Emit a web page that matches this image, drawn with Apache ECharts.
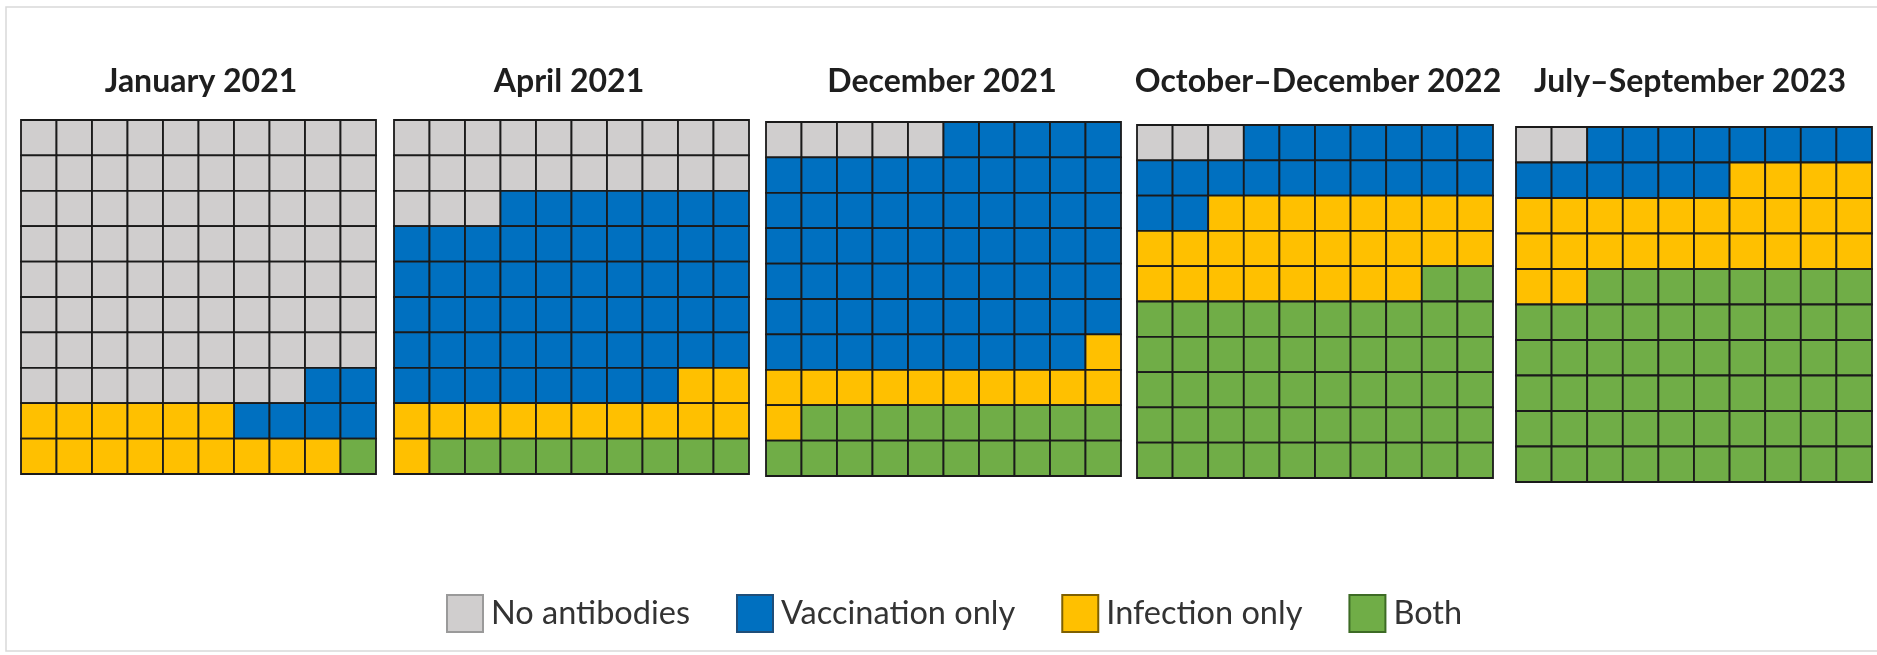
<!DOCTYPE html>
<html>
<head>
<meta charset="utf-8">
<script src="https://cdn.jsdelivr.net/npm/echarts@6/dist/echarts.min.js"></script>
<style>
  html, body { margin: 0; padding: 0; background: #fff; }
  #chart { width: 1877px; height: 655px; }
</style>
</head>
<body>
<div id="chart"></div>
<script>
// categories and their colours
const categoryCodes = ["N", "V", "I", "B"];
const categoryNames = ["No antibodies", "Vaccination only", "Infection only", "Both"];
const categoryColors = ["#d0cece", "#0070c0", "#ffc000", "#70ad47"];
const categoryBorders = ["#9a9a9a", "#1f4e79", "#7f6000", "#3d6b25"];

const panelTitles = ["January 2021", "April 2021", "December 2021", "October\u2013December 2022", "July\u2013September 2023"];

// 10x10 waffle rows, top to bottom (N = none, V = vaccination, I = infection, B = both)
const jan2021 = [
  "NNNNNNNNNN", "NNNNNNNNNN", "NNNNNNNNNN", "NNNNNNNNNN", "NNNNNNNNNN",
  "NNNNNNNNNN", "NNNNNNNNNN", "NNNNNNNNVV", "IIIIIIVVVV", "IIIIIIIIIB",
];
const apr2021 = [
  "NNNNNNNNNN", "NNNNNNNNNN", "NNNVVVVVVV", "VVVVVVVVVV", "VVVVVVVVVV",
  "VVVVVVVVVV", "VVVVVVVVVV", "VVVVVVVVII", "IIIIIIIIII", "IBBBBBBBBB",
];
const dec2021 = [
  "NNNNNVVVVV", "VVVVVVVVVV", "VVVVVVVVVV", "VVVVVVVVVV", "VVVVVVVVVV",
  "VVVVVVVVVV", "VVVVVVVVVI", "IIIIIIIIII", "IBBBBBBBBB", "BBBBBBBBBB",
];
const octDec2022 = [
  "NNNVVVVVVV", "VVVVVVVVVV", "VVIIIIIIII", "IIIIIIIIII", "IIIIIIIIBB",
  "BBBBBBBBBB", "BBBBBBBBBB", "BBBBBBBBBB", "BBBBBBBBBB", "BBBBBBBBBB",
];
const julSep2023 = [
  "NNVVVVVVVV", "VVVVVVIIII", "IIIIIIIIII", "IIIIIIIIII", "IIBBBBBBBB",
  "BBBBBBBBBB", "BBBBBBBBBB", "BBBBBBBBBB", "BBBBBBBBBB", "BBBBBBBBBB",
];
const panels = [jan2021, apr2021, dec2021, octDec2022, julSep2023];

const gridIndex = ["0", "1", "2", "3", "4", "5", "6", "7", "8", "9"];

// layout of the five panels
const gridBoxes = [
  { left: 21, top: 120, width: 355, height: 354 },
  { left: 394, top: 120, width: 355, height: 354 },
  { left: 766, top: 122, width: 355, height: 354 },
  { left: 1137, top: 125, width: 356, height: 353 },
  { left: 1516, top: 127, width: 356, height: 355 },
];
const titleCenters = [201, 569, 942, 1318, 1690];

function cellsOf(rows, code) {
  const out = [];
  rows.forEach((row, r) => {
    row.split("").forEach((ch, c) => {
      if (ch === code) out.push([c, r]);
    });
  });
  return out;
}

function renderCell(params, api) {
  const center = api.coord([api.value(0), api.value(1)]);
  const size = api.size([1, 1]);
  return {
    type: "rect",
    shape: { x: center[0] - size[0] / 2, y: center[1] - size[1] / 2, width: size[0], height: size[1] },
    style: { fill: api.visual("color"), stroke: "#1a1a1a", lineWidth: 1.8 },
  };
}

const grid = gridBoxes.map((b) => ({ ...b, containLabel: false }));
const xAxis = gridBoxes.map((b, i) => ({ type: "category", gridIndex: i, data: gridIndex, show: false }));
const yAxis = gridBoxes.map((b, i) => ({ type: "category", gridIndex: i, data: gridIndex, inverse: true, show: false }));

const series = [];
panels.forEach((rows, p) => {
  categoryCodes.forEach((code, k) => {
    series.push({
      type: "custom",
      name: categoryNames[k],
      xAxisIndex: p,
      yAxisIndex: p,
      itemStyle: { color: categoryColors[k] },
      renderItem: renderCell,
      data: cellsOf(rows, code),
    });
  });
});

const title = panelTitles.map((t, i) => ({
  text: t,
  left: titleCenters[i],
  top: 66,
  textAlign: "center",
  padding: 0,
  textStyle: { fontFamily: "Lato", fontWeight: "bold", fontSize: 32, color: "#1e1e1e" },
}));

const chart = echarts.init(document.getElementById("chart"));
chart.setOption({
  animation: false,
  title,
  grid,
  xAxis,
  yAxis,
  legend: {
    left: 446,
    top: 594,
    padding: 0,
    itemWidth: 36,
    itemHeight: 37,
    itemGap: 46,
    icon: "rect",
    selectedMode: false,
    textStyle: { fontFamily: "Lato", fontSize: 32.5, color: "#333", padding: [0, 0, 0, 3] },
    data: categoryNames.map((n, k) => ({
      name: n,
      itemStyle: { color: categoryColors[k], borderColor: categoryBorders[k], borderWidth: 2 },
    })),
  },
  graphic: [
    {
      type: "rect",
      shape: { x: 6, y: 7, width: 1880, height: 644 },
      style: { fill: "none", stroke: "#d9d9d9", lineWidth: 1.5 },
      silent: true,
      z: -1,
    },
  ],
  series,
});
</script>
</body>
</html>
